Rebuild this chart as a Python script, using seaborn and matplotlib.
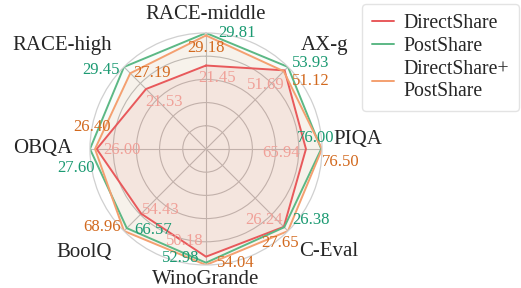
import numpy as np
import pandas as pd
import matplotlib
matplotlib.use("Agg")
import matplotlib.pyplot as plt
import seaborn as sns

benchmarks = ["RACE-middle", "AX-g", "PIQA", "C-Eval", "WinoGrande", "BoolQ", "OBQA", "RACE-high"]
direct_share = [21.45, 51.69, 65.94, 26.24, 50.18, 54.43, 26.00, 21.53]
post_share = [29.81, 53.93, 76.00, 26.38, 52.98, 66.57, 27.60, 29.45]
both_share = [29.18, 51.12, 76.50, 27.65, 54.04, 68.96, 26.40, 27.19]
series_names = ["DirectShare", "PostShare", "DirectShare+PostShare"]
legend_labels = ["DirectShare", "PostShare", "DirectShare+\nPostShare"]

line_colors = ["#e8595b", "#5cb885", "#f4a070"]
text_colors = ["#f0a098", "#1b9a72", "#d2691e"]
fill_alphas = [0.09, 0.04, 0.10]

# value label offsets in pixels (x right, y down)
label_offsets = [
    [(11, 12), (-19, 15), (-25, 4), (-20, -7), (-21, -16), (20, -4), (25, 1), (18, 13)],
    [(31, 0), (23, -4), (-6, -11), (27, -7), (-25, -5), (26, 2), (-14, 19), (-23, 3)],
    [(0, 13), (27, 10), (19, 13), (-8, 12), (30, -2), (-22, -4), (-3, -22), (22, 0)],
]

# benchmark name placement
name_r = [1.08, 1.15, 1.10, 1.14, 1.04, 1.15, 1.15, 1.15]
name_ha = ["center", "left", "left", "left", "center", "right", "right", "right"]
name_va = ["bottom", "bottom", "bottom", "top", "top", "top", "center", "bottom"]

sns.set_style("white")
plt.rcParams["font.family"] = ["Liberation Serif", "DejaVu Serif"]

values = np.array([direct_share, post_share, both_share])
scaled = values / values.max(axis=0)
n = len(benchmarks)
theta = np.arange(n) * 2 * np.pi / n

rows = []
for name, r in zip(series_names, scaled):
    for t, v in zip(np.append(theta, 2 * np.pi), np.append(r, r[0])):
        rows.append({"model": name, "theta": t, "r": v})
df = pd.DataFrame(rows)

fig = plt.figure(figsize=(5.21, 2.88), dpi=100)
ax = fig.add_axes([0.1727, 0.0799, 0.4453, 0.8056], projection="polar")
ax.set_theta_offset(np.pi / 2)
ax.set_theta_direction(-1)

for name, color, alpha in zip(series_names, line_colors, fill_alphas):
    sub = df[df["model"] == name]
    ax.fill(sub["theta"], sub["r"], color=color, alpha=alpha, lw=0)

sns.lineplot(
    data=df, x="theta", y="r", hue="model", hue_order=series_names,
    palette=line_colors, sort=False, estimator=None, lw=1.4, ax=ax
)
handles, _ = ax.get_legend_handles_labels()
ax.get_legend().remove()

ax.set_ylim(0, 1)
ax.set_yticks([0.2, 0.4, 0.6, 0.8])
ax.set_yticklabels([])
ax.set_xticks(theta)
ax.set_xticklabels([])
ax.set_xlabel("")
ax.set_ylabel("")
ax.grid(color="#bdbdbd", lw=0.8)
ax.spines["polar"].set_color("#d0d0d0")
ax.spines["polar"].set_linewidth(0.9)

for i, (r, color) in enumerate(zip(scaled, text_colors)):
    for j in range(n):
        dx, dy = label_offsets[i][j]
        ax.annotate(
            f"{values[i, j]:.2f}", xy=(theta[j], r[j]), xytext=(dx, -dy),
            textcoords="offset pixels", ha="center", va="center",
            fontsize=12, color=color
        )

for j, label in enumerate(benchmarks):
    ax.text(theta[j], name_r[j], label, ha=name_ha[j], va=name_va[j], fontsize=15)

fig.legend(
    handles, legend_labels, loc="upper left", bbox_to_anchor=(0.695, 0.985),
    fontsize=14.2, handlelength=1.1, handletextpad=0.5, labelspacing=0.2,
    borderpad=0.5, borderaxespad=0, frameon=True, edgecolor="#dddddd", fancybox=True
)

fig.savefig("out.png", dpi=100)
